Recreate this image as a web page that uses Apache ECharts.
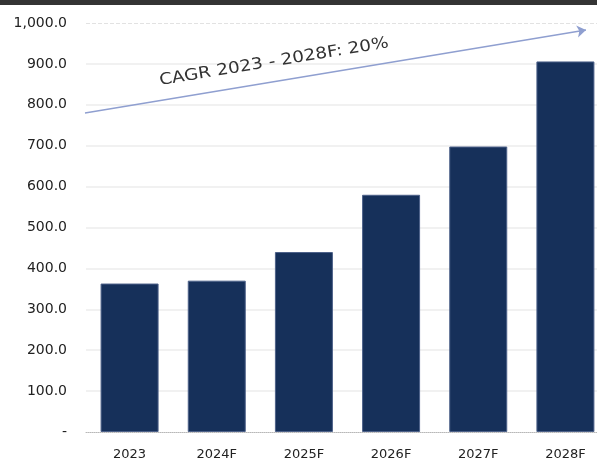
<!DOCTYPE html>
<html>
<head>
<meta charset="utf-8">
<script src="https://cdn.jsdelivr.net/npm/echarts@6/dist/echarts.min.js"></script>
<style>html,body{margin:0;padding:0;background:#fff;}#c{width:597px;height:461px;}</style>
</head>
<body>
<div id="c"></div>
<script>
const categories = ['2023', '2024F', '2025F', '2026F', '2027F', '2028F'];
const marketValues = [363, 370, 440, 580, 698, 906];
const yTicks = { min: 0, max: 1000, interval: 100 };
const annotationText = 'CAGR 2023 - 2028F: 20%';

const chart = echarts.init(document.getElementById('c'), null, { renderer: 'canvas' });
const FONT = 'DejaVu Sans';
chart.setOption({
  animation: false,
  backgroundColor: '#ffffff',
  grid: { left: 86, top: 23, width: 523, bottom: 29, outerBoundsMode: 'none' },
  xAxis: {
    type: 'category',
    data: categories,
    axisLine: { show: true, lineStyle: { color: '#b8b8b8', type: 'dotted', width: 1 } },
    axisTick: { show: false },
    axisLabel: { color: '#222', fontFamily: FONT, fontSize: 13, margin: 16 }
  },
  yAxis: {
    type: 'value',
    min: yTicks.min, max: yTicks.max, interval: yTicks.interval,
    axisLine: { show: false },
    axisTick: { show: false },
    axisLabel: {
      color: '#222', fontFamily: FONT, fontSize: 14, margin: 19,
      formatter: v => v === 0 ? '-' : v.toLocaleString('en-US', { minimumFractionDigits: 1, maximumFractionDigits: 1 })
    },
    splitLine: { show: true, showMinLine: false, showMaxLine: false, lineStyle: { color: '#ededed', width: 1.5 } }
  },
  graphic: [
    { type: 'rect', left: 0, top: 0, shape: { width: 597, height: 5 }, style: { fill: '#343434' }, z: 100 },
    {
      type: 'text', x: 274, y: 62, rotation: 9.4 * Math.PI / 180, scaleX: 1.15,
      style: { text: annotationText, fill: '#333', font: '16px "DejaVu Sans"', align: 'center', verticalAlign: 'middle' },
      z: 100
    }
  ],
  series: [
    {
      type: 'bar',
      data: marketValues,
      barWidth: 58,
      itemStyle: { color: '#16305a', borderColor: '#4d6189', borderWidth: 1 },
      markLine: {
        silent: true,
        symbol: ['none', 'arrow'],
        symbolSize: 9,
        label: { show: false },
        lineStyle: { color: '#8f9fd0', type: 'solid', width: 1.3 },
        data: [[{ x: 85, y: 113 }, { x: 586, y: 30 }]]
      }
    },
    {
      type: 'line',
      data: [],
      markLine: {
        silent: true,
        symbol: 'none',
        label: { show: false },
        lineStyle: { color: '#e2e2e2', type: 'dashed', width: 1 },
        data: [{ yAxis: yTicks.max }]
      }
    }
  ]
});
</script>
</body>
</html>
